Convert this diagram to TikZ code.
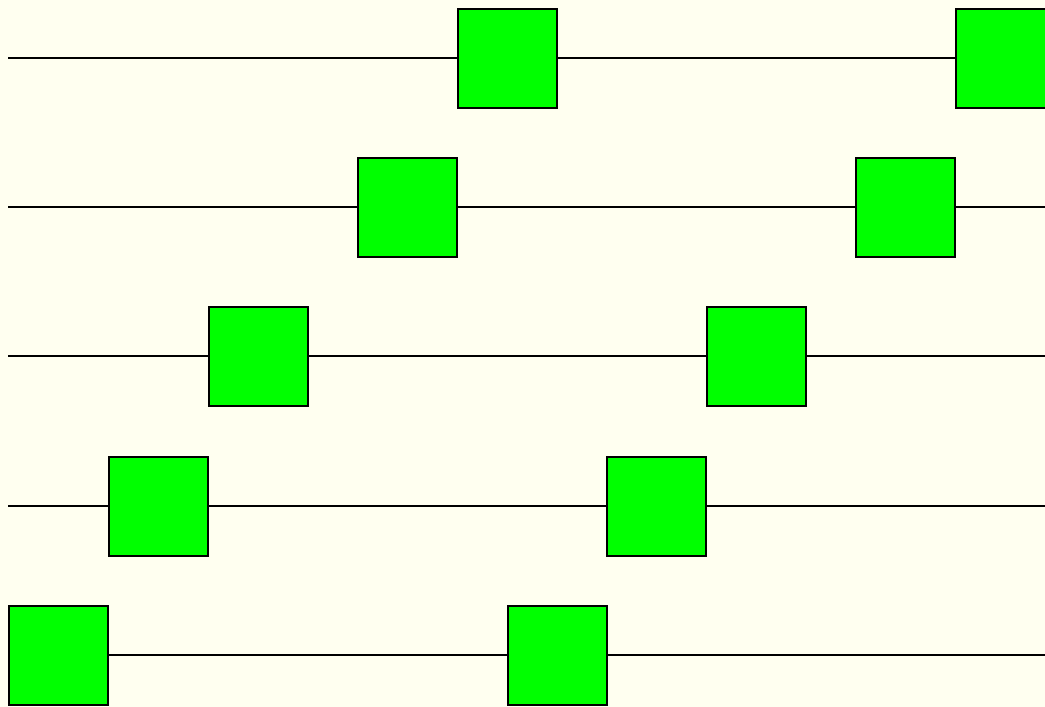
\documentclass[tikz,border=0pt]{standalone}
\definecolor{bgcol}{HTML}{FFFFF0}
\definecolor{boxgreen}{HTML}{00FF00}
\begin{document}
\begin{tikzpicture}[x=1pt,y=-1pt,
  sq/.style={draw=black,fill=boxgreen,line width=2pt,minimum size=99pt,inner sep=0pt,outer sep=0pt,rectangle},
  wire/.style={draw=black,line width=2pt}]
\useasboundingbox (0,0) rectangle (1045,707);
\fill[bgcol] (0,0) rectangle (1045,707);
\clip (0,0) rectangle (1045,707);
% row 1
\coordinate (s1) at (8,58);
\node[sq] (a1) at (507,58) {};
\node[sq] (b1) at (1005,58) {};
\draw[wire] (s1) -- (a1.west);
\draw[wire] (a1.east) -- (b1.west);
% row 2
\coordinate (s2) at (8,207);
\coordinate (e2) at (1046,207);
\node[sq] (a2) at (407,207) {};
\node[sq] (b2) at (905,207) {};
\draw[wire] (s2) -- (a2.west);
\draw[wire] (a2.east) -- (b2.west);
\draw[wire] (b2.east) -- (e2);
% row 3
\coordinate (s3) at (8,356);
\coordinate (e3) at (1046,356);
\node[sq] (a3) at (258,356) {};
\node[sq] (b3) at (756,356) {};
\draw[wire] (s3) -- (a3.west);
\draw[wire] (a3.east) -- (b3.west);
\draw[wire] (b3.east) -- (e3);
% row 4
\coordinate (s4) at (8,506);
\coordinate (e4) at (1046,506);
\node[sq] (a4) at (158,506) {};
\node[sq] (b4) at (656,506) {};
\draw[wire] (s4) -- (a4.west);
\draw[wire] (a4.east) -- (b4.west);
\draw[wire] (b4.east) -- (e4);
% row 5
\coordinate (e5) at (1046,655);
\node[sq] (a5) at (58,655) {};
\node[sq] (b5) at (557,655) {};
\draw[wire] (a5.east) -- (b5.west);
\draw[wire] (b5.east) -- (e5);
\end{tikzpicture}
\end{document}
